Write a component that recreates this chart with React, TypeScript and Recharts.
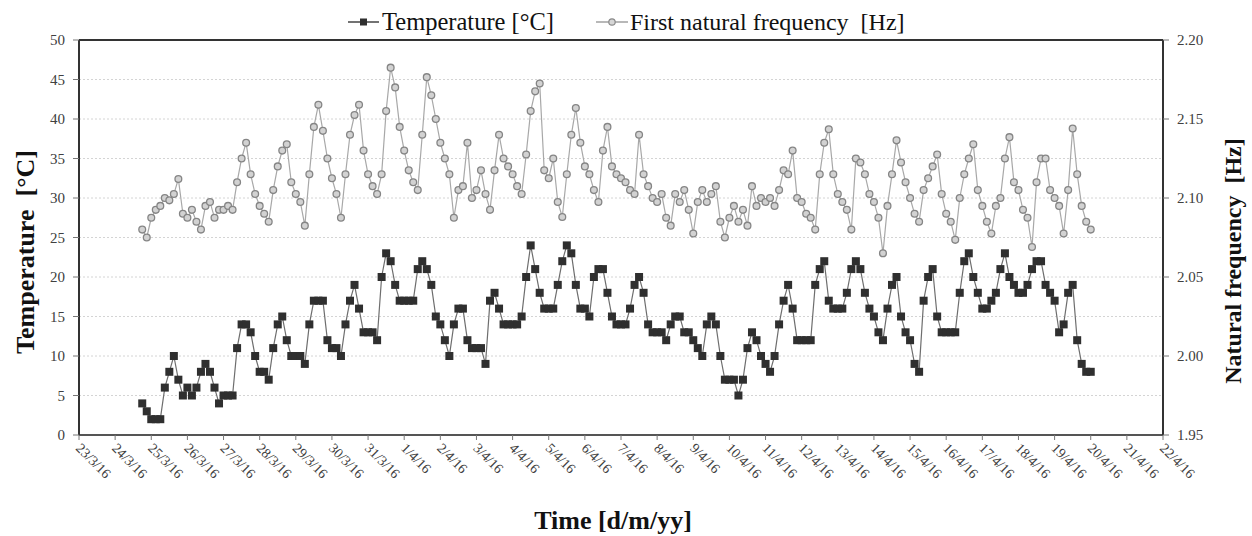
import React from 'react';
import { ComposedChart, Line, XAxis, YAxis, CartesianGrid, ReferenceLine } from 'recharts';

// x position = days after 23/3/16 00:00; readings every 3 hours starting 24/3/16 18:00
const START_DAY = 1.75;
const STEP_DAY = 0.125;

const dateLabels = [
  '23/3/16', '24/3/16', '25/3/16', '26/3/16', '27/3/16', '28/3/16', '29/3/16', '30/3/16', '31/3/16',
  '1/4/16', '2/4/16', '3/4/16', '4/4/16', '5/4/16', '6/4/16', '7/4/16', '8/4/16', '9/4/16', '10/4/16',
  '11/4/16', '12/4/16', '13/4/16', '14/4/16', '15/4/16', '16/4/16', '17/4/16', '18/4/16', '19/4/16',
  '20/4/16', '21/4/16', '22/4/16',
];
const tempTicks = [0, 5, 10, 15, 20, 25, 30, 35, 40, 45, 50];
const freqTicks = [1.95, 2.0, 2.05, 2.1, 2.15, 2.2];

const temperature = [
  4, 3,
  2, 2, 2, 6, 8, 10, 7, 5,
  6, 5, 6, 8, 9, 8, 6, 4,
  5, 5, 5, 11, 14, 14, 13, 10,
  8, 8, 7, 11, 14, 15, 12, 10,
  10, 10, 9, 14, 17, 17, 17, 12,
  11, 11, 10, 14, 17, 19, 16, 13,
  13, 13, 12, 20, 23, 22, 19, 17,
  17, 17, 17, 21, 22, 21, 19, 15,
  14, 12, 10, 14, 16, 16, 12, 11,
  11, 11, 9, 17, 18, 16, 14, 14,
  14, 14, 15, 20, 24, 21, 18, 16,
  16, 16, 19, 22, 24, 23, 19, 16,
  16, 15, 20, 21, 21, 18, 15, 14,
  14, 14, 16, 19, 20, 18, 14, 13,
  13, 13, 12, 14, 15, 15, 13, 13,
  12, 11, 10, 14, 15, 14, 10, 7,
  7, 7, 5, 7, 11, 13, 12, 10,
  9, 8, 10, 14, 17, 19, 16, 12,
  12, 12, 12, 19, 21, 22, 17, 16,
  16, 16, 18, 21, 22, 21, 18, 16,
  15, 13, 12, 16, 19, 20, 15, 13,
  12, 9, 8, 17, 20, 21, 15, 13,
  13, 13, 13, 18, 22, 23, 20, 18,
  16, 16, 17, 18, 21, 23, 20, 19,
  18, 18, 19, 21, 22, 22, 19, 18,
  17, 13, 14, 18, 19, 12, 9, 8,
  8,
];

const frequency = [
  2.080, 2.075,
  2.0875, 2.0925, 2.095, 2.100, 2.0985, 2.1025, 2.112, 2.090,
  2.0875, 2.0925, 2.085, 2.080, 2.095, 2.0975, 2.0875, 2.0925,
  2.0925, 2.095, 2.0925, 2.110, 2.125, 2.135, 2.115, 2.1025,
  2.095, 2.090, 2.085, 2.105, 2.120, 2.130, 2.134, 2.110,
  2.1025, 2.0975, 2.0825, 2.115, 2.145, 2.159, 2.1425, 2.125,
  2.1125, 2.1025, 2.0875, 2.115, 2.140, 2.1525, 2.159, 2.130,
  2.115, 2.1075, 2.1025, 2.115, 2.155, 2.1825, 2.170, 2.145,
  2.130, 2.1175, 2.110, 2.105, 2.140, 2.1765, 2.165, 2.150,
  2.135, 2.125, 2.115, 2.0875, 2.105, 2.1075, 2.135, 2.100,
  2.105, 2.1175, 2.1025, 2.0925, 2.1175, 2.140, 2.125, 2.120,
  2.115, 2.1075, 2.1025, 2.1275, 2.155, 2.1675, 2.1725, 2.1175,
  2.1125, 2.125, 2.0975, 2.088, 2.115, 2.140, 2.157, 2.135,
  2.120, 2.115, 2.105, 2.0975, 2.130, 2.145, 2.120, 2.115,
  2.1125, 2.110, 2.105, 2.1025, 2.140, 2.115, 2.1075, 2.100,
  2.0975, 2.1025, 2.0875, 2.0825, 2.1025, 2.0975, 2.105, 2.0925,
  2.0775, 2.0975, 2.105, 2.0975, 2.1025, 2.1075, 2.085, 2.075,
  2.0875, 2.095, 2.085, 2.0925, 2.0825, 2.1075, 2.095, 2.100,
  2.0975, 2.100, 2.095, 2.105, 2.1175, 2.115, 2.130, 2.100,
  2.0975, 2.090, 2.0875, 2.080, 2.115, 2.135, 2.1435, 2.115,
  2.1025, 2.0975, 2.0925, 2.080, 2.125, 2.1225, 2.115, 2.1025,
  2.0975, 2.0875, 2.065, 2.095, 2.115, 2.1365, 2.1225, 2.110,
  2.100, 2.090, 2.085, 2.105, 2.1125, 2.120, 2.1275, 2.1025,
  2.090, 2.085, 2.0735, 2.100, 2.115, 2.125, 2.134, 2.105,
  2.095, 2.085, 2.0775, 2.095, 2.100, 2.125, 2.1385, 2.110,
  2.105, 2.0925, 2.0875, 2.069, 2.110, 2.125, 2.125, 2.105,
  2.100, 2.095, 2.0775, 2.105, 2.144, 2.115, 2.095, 2.085,
  2.080,
];

const data = temperature.map((t, i) => ({
  day: START_DAY + i * STEP_DAY,
  temp: t,
  freq: frequency[i],
}));

const FONT = '"Liberation Serif", "Times New Roman", serif';
const TICK_COLOR = '#404040';

const DateTick = (props: any) => {
  const { x, y, payload } = props;
  const tx = x - 4;
  const ty = y + 7;
  return (
    <text
      x={tx}
      y={ty}
      transform={`rotate(45 ${tx} ${ty})`}
      textAnchor="start"
      fontSize={14}
      fontFamily={FONT}
      fill={TICK_COLOR}
    >
      {dateLabels[payload.value]}
    </text>
  );
};

const SquareDot = (props: any) => {
  const { cx, cy, index } = props;
  if (cx == null || cy == null) return <g key={`sq-${index}`} />;
  return <rect key={`sq-${index}`} x={cx - 4} y={cy - 4} width={8} height={8} fill="#2f2f2f" />;
};

export default function App() {
  return (
    <div style={{ position: 'absolute', left: 0, top: 0, width: 1252, height: 536, background: '#ffffff' }}>
      <ComposedChart
        width={1252}
        height={536}
        data={data}
        margin={{ top: 40, right: 0, bottom: 0, left: 0 }}
      >
        <CartesianGrid
          yAxisId="left"
          vertical={false}
          horizontal
          stroke="#d4d4d4"
          strokeDasharray="2 2"
        />
        <XAxis
          dataKey="day"
          type="number"
          domain={[0, 30]}
          ticks={dateLabels.map((_, i) => i)}
          interval={0}
          height={101}
          tickSize={5}
          tickMargin={2}
          tick={DateTick}
          axisLine={{ stroke: '#555', strokeWidth: 2 }}
          tickLine={{ stroke: '#777' }}
        />
        <YAxis
          yAxisId="left"
          domain={[0, 50]}
          ticks={tempTicks}
          interval={0}
          width={79}
          tickSize={6}
          tickMargin={8}
          axisLine={{ stroke: '#333', strokeWidth: 2 }}
          tickLine={{ stroke: '#777' }}
          tick={{ fontSize: 15, fontFamily: FONT, fill: TICK_COLOR }}
        />
        <YAxis
          yAxisId="right"
          orientation="right"
          domain={[1.95, 2.2]}
          ticks={freqTicks}
          interval={0}
          width={89}
          tickSize={6}
          tickMargin={8}
          tickFormatter={(v: number) => v.toFixed(2)}
          axisLine={{ stroke: '#333', strokeWidth: 2 }}
          tickLine={{ stroke: '#777' }}
          tick={{ fontSize: 15, fontFamily: FONT, fill: TICK_COLOR }}
        />
        <ReferenceLine yAxisId="left" y={50} stroke="#333" strokeWidth={2} ifOverflow="visible" />
        <Line
          yAxisId="right"
          dataKey="freq"
          type="linear"
          stroke="#a8a8a8"
          strokeWidth={1.2}
          dot={{ r: 3.4, stroke: '#858585', strokeWidth: 1.3, fill: '#d2d2d2' }}
          isAnimationActive={false}
        />
        <Line
          yAxisId="left"
          dataKey="temp"
          type="linear"
          stroke="#6e6e6e"
          strokeWidth={1.2}
          dot={SquareDot}
          isAnimationActive={false}
        />
        {/* Legend */}
        <g>
          <line x1={348} y1={22} x2={379} y2={22} stroke="#444" strokeWidth={1.5} />
          <rect x={360} y={18.5} width={7} height={7} fill="#2f2f2f" />
          <text x={382} y={30} fontSize={24.5} fontFamily={FONT} fill="#111">Temperature [°C]</text>
          <line x1={596} y1={22} x2={628} y2={22} stroke="#a0a0a0" strokeWidth={1.5} />
          <circle cx={612} cy={22} r={3.2} fill="#d6d6d6" stroke="#8a8a8a" strokeWidth={1.2} />
          <text x={630} y={30} fontSize={24} fontFamily={FONT} fill="#111" style={{ whiteSpace: 'pre' }}>
            First natural frequency  [Hz]
          </text>
        </g>
        {/* Axis titles */}
        <text
          x={0}
          y={0}
          transform="translate(34 252) rotate(-90)"
          textAnchor="middle"
          fontSize={26}
          fontWeight="bold"
          fontFamily={FONT}
          fill="#111"
          style={{ whiteSpace: 'pre' }}
        >
          Temperature  [°C]
        </text>
        <text
          x={0}
          y={0}
          transform="translate(1241 261) rotate(-90)"
          textAnchor="middle"
          fontSize={24}
          fontWeight="bold"
          fontFamily={FONT}
          fill="#111"
          style={{ whiteSpace: 'pre' }}
        >
          Natural frequency  [Hz]
        </text>
        <text
          x={613}
          y={529}
          textAnchor="middle"
          fontSize={26}
          fontWeight="bold"
          fontFamily={FONT}
          fill="#111"
        >
          Time [d/m/yy]
        </text>
      </ComposedChart>
    </div>
  );
}
